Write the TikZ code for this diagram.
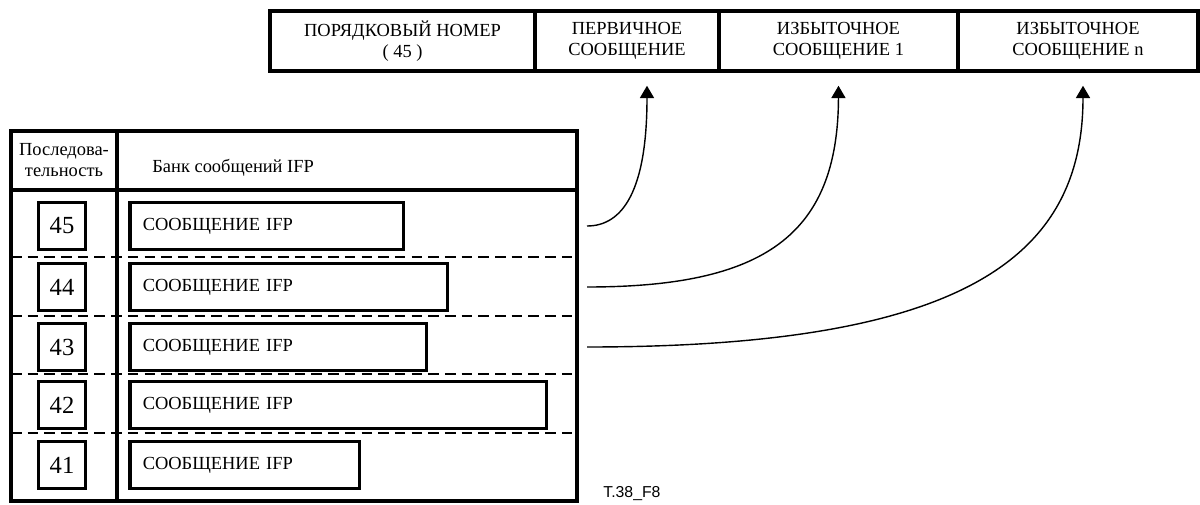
\documentclass[tikz,border=0pt]{standalone}
\usepackage{fontspec}
\setmainfont{Liberation Serif}
\newfontfamily\arialfont{Liberation Sans}
\usetikzlibrary{arrows.meta}
\tikzset{
  field/.style={draw, line width=2pt, minimum height=1.2cm, inner sep=0pt,
    align=center, font=\fontsize{10.5}{12}\selectfont},
  frame/.style={line width=2.2pt},
  rowsep/.style={line width=1.1pt, dash pattern=on 6pt off 3.5pt},
  numbox/.style={draw, line width=2pt, minimum width=0.94cm, minimum height=0.94cm,
    inner sep=0pt, font=\fontsize{14}{16}\selectfont},
  msgbox/.style={draw, line width=2pt, minimum height=0.94cm, anchor=west,
    inner xsep=0.26cm, text width=#1cm, align=left, font=\fontsize{10.5}{12}\selectfont},
  link/.style={line width=0.8pt, -{Triangle[width=8pt,length=7pt]}}}
\begin{document}
\begin{tikzpicture}[x=0.02cm, y=-0.02cm]
      \useasboundingbox (0,0) rectangle (1200,504);

      % header record
      \node [field, minimum width=5.3cm] (f1) at (402.5,41) {ПОРЯДКОВЫЙ НОМЕР\\( 45 )};
      \node [field, minimum width=3.68cm] (f2) at (627,41) {ПЕРВИЧНОЕ\\СООБЩЕНИЕ};
      \node [field, minimum width=4.78cm] (f3) at (838.5,41) {ИЗБЫТОЧНОЕ\\СООБЩЕНИЕ 1};
      \node [field, minimum width=4.8cm] (f4) at (1078,41) {ИЗБЫТОЧНОЕ\\СООБЩЕНИЕ n};

      % message bank table
      \foreach \y in {257,316,374,433}
        \draw [rowsep] (11,\y) -- (577,\y);
      \draw [frame] (11,131) rectangle (577,501);
      \draw [frame] (117,131) -- (117,501);
      \draw [frame] (11,190) -- (577,190);
      \node [align=center, inner sep=0pt, font=\fontsize{10.5}{12}\selectfont] (seqhead) at (64,160) {Последова-\\тельность};
      \node [anchor=west, inner sep=0pt, font=\fontsize{10.5}{12}\selectfont] (bankhead) at (152,168) {Банк сообщений IFP};

      \foreach \n/\y/\w in {45/226/4.96, 44/287/5.84, 43/347/5.42, 42/405/7.82, 41/465/4.08} {
        \node [numbox] (num\n) at (62,\y) {\n};
        \node [msgbox=\w] (msg\n) at (128,\y) {СООБЩЕНИЕ IFP};
      }

      \node [anchor=west, inner sep=0pt, font=\arialfont\fontsize{9}{10}\selectfont] (figid) at (603,494) {T.38\_F8};

      % pointers into the record
      \coordinate (s45) at (587,226);
      \coordinate (s44) at (587,287);
      \coordinate (s43) at (587,347);
      \coordinate (t2) at ([xshift=0.4cm, yshift=-0.26cm]f2.south);
      \coordinate (t3) at ([yshift=-0.26cm]f3.south);
      \coordinate (t4) at ([xshift=0.1cm, yshift=-0.26cm]f4.south);
      \draw [link] (s45) .. controls (623,226) and (647,190) .. (t2);
      \draw [link] (s44) .. controls (763,287) and (838,236) .. (t3);
      \draw [link] (s43) .. controls (959,347) and (1083,260) .. (t4);
    \end{tikzpicture}
\end{document}
